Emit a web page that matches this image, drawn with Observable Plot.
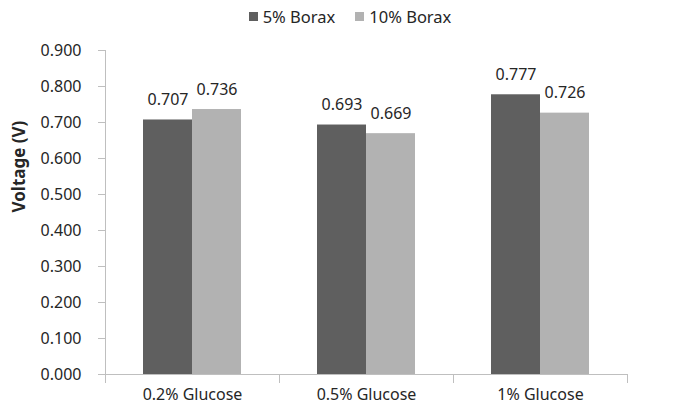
<!DOCTYPE html>
<html>
<head>
<meta charset="utf-8">
<script src="https://cdn.jsdelivr.net/npm/d3@7"></script>
<script src="https://cdn.jsdelivr.net/npm/@observablehq/plot@0.6"></script>
<style>
  body { margin: 0; background: #fff; font-family: "Noto Sans", sans-serif; }
  #legend { height: 32px; display: flex; justify-content: center; align-items: center; gap: 20px; font-size: 16.5px; color: #262626; padding-left: 12px; box-sizing: border-box; }
  #legend .item { display: flex; align-items: center; gap: 5px; }
  #legend .sw { width: 9px; height: 9px; display: inline-block; }
</style>
</head>
<body>
<div id="legend"></div>
<div id="chart"></div>
<script>
const categories = ["0.2% Glucose", "0.5% Glucose", "1% Glucose"];
const series = ["5% Borax", "10% Borax"];
const borax5 = [0.707, 0.693, 0.777];
const borax10 = [0.736, 0.669, 0.726];
const yTicks = [0, 0.1, 0.2, 0.3, 0.4, 0.5, 0.6, 0.7, 0.8, 0.9];
const yLabel = "Voltage (V)";
const colors = ["#5f5f5f", "#b2b2b2"];

const data = categories.flatMap((c, i) => [
  {cat: c, series: series[0], v: borax5[i]},
  {cat: c, series: series[1], v: borax10[i]}
]);

const legend = document.getElementById("legend");
series.forEach((s, i) => {
  const item = document.createElement("span");
  item.className = "item";
  const sw = document.createElement("span");
  sw.className = "sw";
  sw.style.background = colors[i];
  item.appendChild(sw);
  item.appendChild(document.createTextNode(s));
  legend.appendChild(item);
});

const fmt = d3.format(".3f");
const axisColor = "#bfbfbf";

const chart = Plot.plot({
  width: 688,
  height: 377,
  marginTop: 18,
  marginBottom: 35,
  marginLeft: 104,
  marginRight: 60,
  style: {fontFamily: "'Noto Sans', sans-serif", fontSize: "16px", color: "#262626", background: "#fff"},
  fx: {domain: categories, padding: 0, label: null},
  x: {domain: series, paddingInner: 0, paddingOuter: 0.765, axis: null},
  y: {domain: [0, 0.9]},
  color: {domain: series, range: colors},
  marks: [
    Plot.barY(data, {fx: "cat", x: "series", y: "v", fill: "series"}),
    Plot.ruleY([0], {stroke: axisColor}),
    Plot.frame({anchor: "left", facetAnchor: "left", stroke: axisColor, insetBottom: -8}),
    Plot.frame({anchor: "left", stroke: axisColor, insetTop: 324, insetBottom: -8}),
    Plot.frame({anchor: "right", stroke: axisColor, insetTop: 324, insetBottom: -8}),
    Plot.axisY({ticks: yTicks, tickFormat: fmt, tickSize: 7, tickPadding: 17, stroke: axisColor, fill: "#262626", label: null, fontSize: 16}),
    Plot.text([yLabel], {frameAnchor: "left", facetAnchor: "left", rotate: -90, dx: -86, fontWeight: "bold", fontSize: 17, fill: "#262626"}),
    Plot.axisFx({anchor: "bottom", tickSize: 0, tickPadding: 14, label: null, fontSize: 16}),
    Plot.text(data, {fx: "cat", x: "series", y: "v", text: d => fmt(d.v), dy: -20, fontSize: 16, fill: "#262626"})
  ]
});
document.getElementById("chart").appendChild(chart);
</script>
</body>
</html>
